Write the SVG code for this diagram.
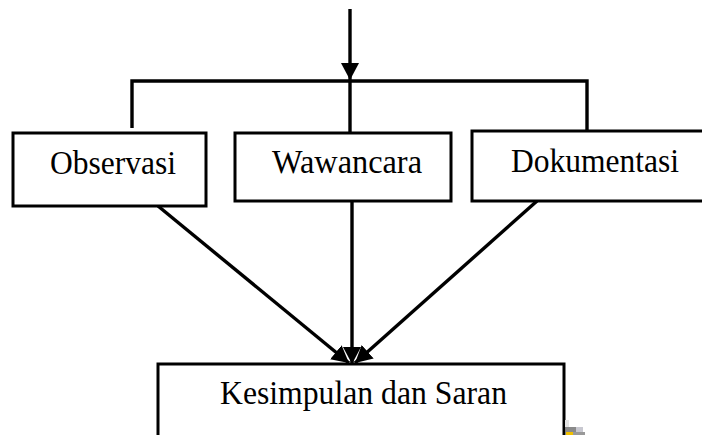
<svg xmlns="http://www.w3.org/2000/svg" width="702" height="435" viewBox="0 0 702 435">
<style>
.box{fill:#fff;stroke:#000;stroke-width:3}
.lbl{font-family:"Liberation Serif","Times New Roman",serif;font-size:33px;fill:#000}
.ln{fill:none;stroke:#000;stroke-width:3.4}
</style>
<defs>
<marker id="ah" markerUnits="userSpaceOnUse" markerWidth="20" markerHeight="20" refX="17" refY="9" orient="auto">
<path d="M0,0 L17,9 L0,18 Z" fill="#000"/>
</marker>
</defs>
<rect width="702" height="435" fill="#fff"/>
<g id="connectors">
<line class="ln" x1="350" y1="9" x2="350" y2="80" marker-end="url(#ah)"/>
<polyline class="ln" points="132,128 132,81 587,81 587,130"/>
<line class="ln" x1="350" y1="81" x2="350" y2="133"/>
<line class="ln" x1="158" y1="206" x2="349" y2="363" marker-end="url(#ah)"/>
<line class="ln" x1="352" y1="201" x2="352" y2="364" marker-end="url(#ah)"/>
<line class="ln" x1="537" y1="201" x2="355" y2="363" marker-end="url(#ah)"/>
</g>
<g id="observasi">
<rect class="box" x="13" y="133" width="193" height="73"/>
<text class="lbl" x="50" y="174" textLength="126" lengthAdjust="spacingAndGlyphs">Observasi</text>
</g>
<g id="wawancara">
<rect class="box" x="235" y="133" width="216" height="68"/>
<text class="lbl" x="272" y="173" textLength="150" lengthAdjust="spacingAndGlyphs">Wawancara</text>
</g>
<g id="dokumentasi">
<rect class="box" x="472" y="131" width="234" height="70"/>
<text class="lbl" x="511" y="172" textLength="168" lengthAdjust="spacingAndGlyphs">Dokumentasi</text>
</g>
<g id="kesimpulan">
<rect class="box" x="158" y="364" width="406" height="80"/>
<text class="lbl" x="220" y="404" textLength="287" lengthAdjust="spacingAndGlyphs">Kesimpulan dan Saran</text>
</g>
<g id="artifact">
<rect x="565" y="420" width="4" height="7" fill="#e4e4e4"/>
<rect x="566" y="427" width="10" height="5" fill="#8a8a8a"/>
<rect x="576" y="427" width="7" height="5" fill="#c8c8d0"/>
<rect x="566" y="432" width="7" height="3" fill="#f0c000"/>
<rect x="573" y="432" width="12" height="3" fill="#999"/>
</g>
</svg>
